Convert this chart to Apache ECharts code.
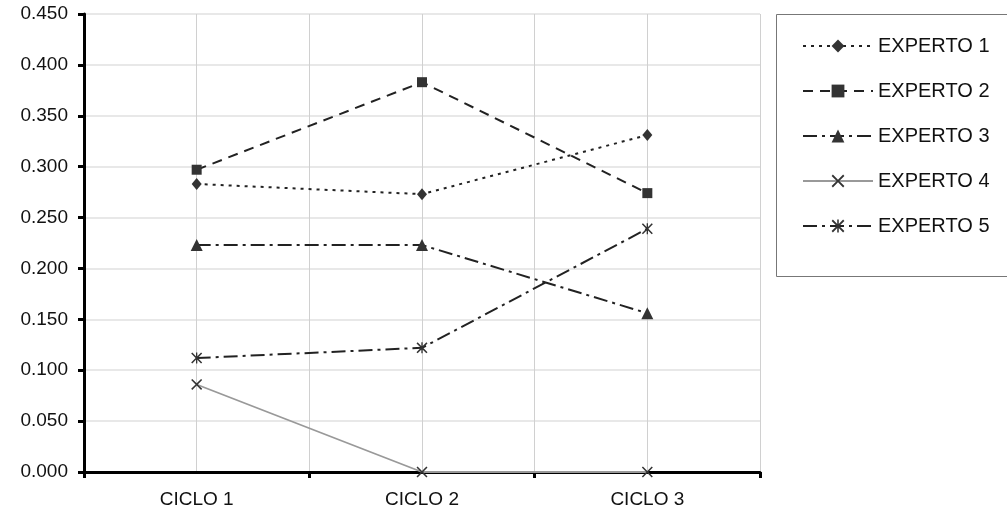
<!DOCTYPE html>
<html><head><meta charset="utf-8">
<script src="https://cdn.jsdelivr.net/npm/echarts@6/dist/echarts.min.js"></script>
<style>html,body{margin:0;padding:0;background:#fff}#c{width:1007px;height:515px}</style>
</head><body><div id="c"></div>
<script>
const categories = ['CICLO 1', 'CICLO 2', 'CICLO 3'];
const seriesNames = ['EXPERTO 1', 'EXPERTO 2', 'EXPERTO 3', 'EXPERTO 4', 'EXPERTO 5'];
const experto1 = [0.283, 0.273, 0.331];
const experto2 = [0.297, 0.383, 0.274];
const experto3 = [0.223, 0.223, 0.156];
const experto4 = [0.086, 0.000, 0.000];
const experto5 = [0.112, 0.122, 0.239];

const X_PATH = 'path://M0,1 L1,0 L5,4 L9,0 L10,1 L6,5 L10,9 L9,10 L5,6 L1,10 L0,9 L4,5 Z';
const AST_PATH = 'path://M0,1 L1,0 L5,4 L9,0 L10,1 L6,5 L10,9 L9,10 L5,6 L1,10 L0,9 L4,5 Z M4.4,0 L5.6,0 L5.6,10 L4.4,10 Z';

const chart = echarts.init(document.getElementById('c'));
const font = 'Liberation Sans, Arial, sans-serif';
function mk(name, data, symbol, size, lineType, lineColor, lineWidth) {
  return {
    name, type: 'line', data, symbol, symbolSize: size,
    xAxisIndex: 0, yAxisIndex: 0,
    lineStyle: { color: lineColor, width: lineWidth, type: lineType },
    itemStyle: { color: '#333' },
    emphasis: { disabled: true }, animation: false
  };
}
chart.setOption({
  animation: false,
  backgroundColor: '#fff',
  textStyle: { fontFamily: font },
  grid: { left: 84, top: 14, right: 247, bottom: 43, containLabel: false },
  graphic: [{
    type: 'rect', left: 776, top: 14, z: 0,
    shape: { width: 250, height: 262 },
    style: { fill: '#fff', stroke: '#777', lineWidth: 1 }
  }],
  legend: {
    orient: 'vertical', left: 797, top: 31,
    itemWidth: 70, itemHeight: 16, itemGap: 25,
    textStyle: { fontSize: 20, color: '#111', fontFamily: font },
    data: seriesNames
  },
  xAxis: [{
    type: 'category', data: categories, boundaryGap: true,
    axisLine: { lineStyle: { color: '#000', width: 3 } },
    axisTick: { show: true, length: 6, lineStyle: { color: '#000', width: 3 } },
    axisLabel: { fontSize: 19, color: '#111', margin: 18, fontFamily: font },
    splitLine: { show: false }
  }, {
    type: 'value', min: 0, max: 6, interval: 1, position: 'bottom',
    axisLine: { show: false }, axisTick: { show: false }, axisLabel: { show: false },
    splitLine: { show: true, lineStyle: { color: '#d0d0d0', width: 1 } }
  }],
  yAxis: {
    type: 'value', min: 0, max: 0.45, interval: 0.05,
    axisLine: { show: true, lineStyle: { color: '#000', width: 3 } },
    axisTick: { show: true, length: 6, lineStyle: { color: '#000', width: 3 } },
    axisLabel: { fontSize: 19, color: '#111', margin: 16, fontFamily: font,
      formatter: v => v.toFixed(3) },
    splitLine: { show: true, lineStyle: { color: '#e0e0e0', width: 1.5 } }
  },
  series: [
    mk(seriesNames[0], experto1, 'diamond', [10, 12], [3, 5], '#222', 2),
    mk(seriesNames[1], experto2, 'rect', 10, [10, 7], '#222', 2),
    mk(seriesNames[2], experto3, 'triangle', 12, [14, 5, 3, 5], '#222', 2),
    mk(seriesNames[3], experto4, X_PATH, 11, 'solid', '#999', 1.8),
    mk(seriesNames[4], experto5, AST_PATH, 11, [14, 5, 3, 5], '#222', 2)
  ]
});
</script></body></html>
